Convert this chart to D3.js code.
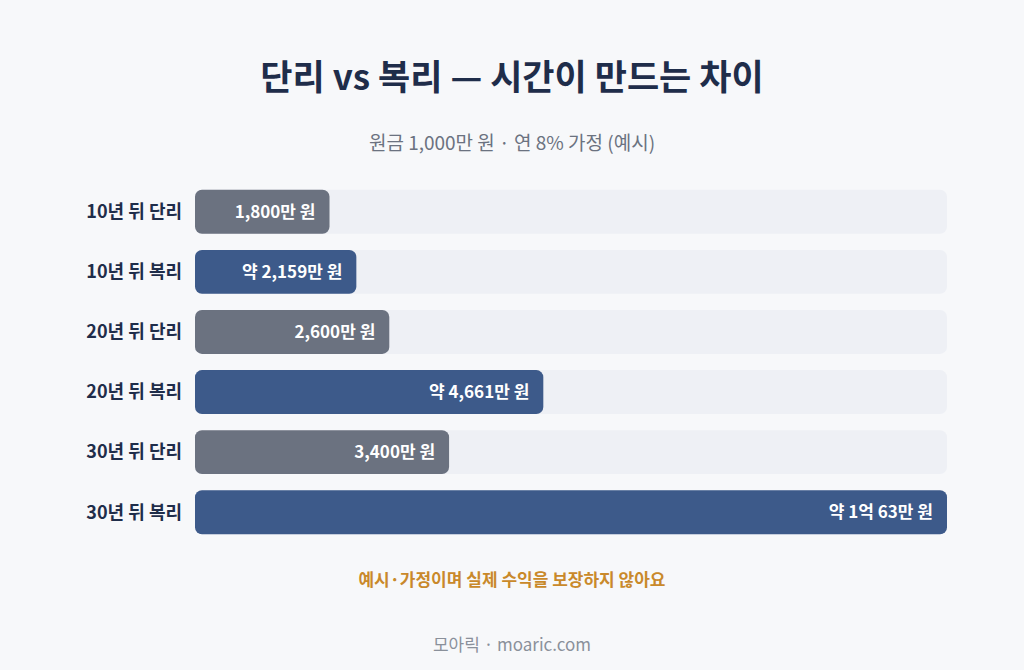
<!DOCTYPE html>
<html><head><meta charset="utf-8">
<script src="https://cdn.jsdelivr.net/npm/d3@7"></script>
<style>body{margin:0;background:#f7f8fa;}svg{display:block;font-family:"Noto Sans CJK KR","Noto Sans",sans-serif;}</style>
</head><body><svg id="c" width="1024" height="670"></svg>
<script>
const categories=["10년 뒤 단리","10년 뒤 복리","20년 뒤 단리","20년 뒤 복리","30년 뒤 단리","30년 뒤 복리"];
const values=[1800,2159,2600,4661,3400,10063];
const kinds=["simple","compound","simple","compound","simple","compound"];
const valueLabels=["1,800만 원","약 2,159만 원","2,600만 원","약 4,661만 원","3,400만 원","약 1억 63만 원"];
const svg=d3.select("#c");
svg.append("rect").attr("width",1024).attr("height",670).attr("fill","#f7f8fa");
svg.append("text").attr("x",512).attr("y",90).attr("text-anchor","middle").attr("font-size",35).attr("font-weight",700).attr("fill","#1f2d4a").text("단리 vs 복리 — 시간이 만드는 차이");
svg.append("text").attr("x",512).attr("y",150).attr("text-anchor","middle").attr("font-size",19).attr("fill","#6b7280").text("원금 1,000만 원 · 연 8% 가정 (예시)");
const x=d3.scaleLinear().domain([0,d3.max(values)]).range([195,947]);
const y=d3.scaleBand().domain(categories).range([182,542]).paddingInner(0.27).paddingOuter(0.13);
const col={simple:"#6b7280",compound:"#3d5a8a"};
const g=svg.append("g");
categories.forEach((c,i)=>{
  const yy=y(c),h=y.bandwidth();
  g.append("rect").attr("x",x(0)).attr("y",yy).attr("width",x.range()[1]-x(0)).attr("height",h).attr("rx",7).attr("fill","#eef0f5");
  g.append("rect").attr("x",x(0)).attr("y",yy).attr("width",x(values[i])-x(0)).attr("height",h).attr("rx",7).attr("fill",col[kinds[i]]);
  g.append("text").attr("x",182).attr("y",yy+h/2).attr("dy","0.35em").attr("text-anchor","end").attr("font-size",18).attr("font-weight",700).attr("fill","#1f2d4a").text(c);
  g.append("text").attr("x",x(values[i])-14).attr("y",yy+h/2).attr("dy","0.35em").attr("text-anchor","end").attr("font-size",17).attr("font-weight",700).attr("fill","#fff").text(valueLabels[i]);
});
svg.append("text").attr("x",512).attr("y",586).attr("text-anchor","middle").attr("font-size",17).attr("font-weight",700).attr("fill","#c9892a").text("예시·가정이며 실제 수익을 보장하지 않아요");
svg.append("text").attr("x",512).attr("y",651).attr("text-anchor","middle").attr("font-size",17).attr("fill","#8a909a").text("모아릭 · moaric.com");
</script></body></html>
